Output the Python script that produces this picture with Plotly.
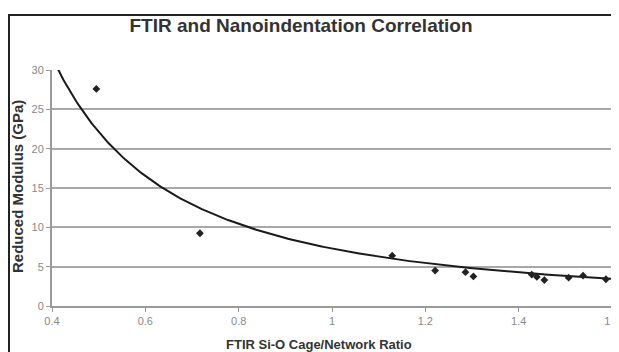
import numpy as np
import plotly.graph_objects as go

ratio = [0.495, 0.717, 1.129, 1.221, 1.286, 1.303, 1.428, 1.439, 1.455, 1.507, 1.538, 1.587]
modulus = [27.6, 9.25, 6.4, 4.5, 4.3, 3.76, 4.0, 3.7, 3.3, 3.6, 3.85, 3.4]

# Power trendline y = A * x^B (coefficients)
TREND_A = 7.3
TREND_B = -1.6
trend_x = np.linspace(0.4, 1.6, 300)
trend_y = TREND_A * trend_x ** TREND_B

x_ticks = [0.4, 0.6, 0.8, 1, 1.2, 1.4, 1.6]
x_tick_labels = ["0.4", "0.6", "0.8", "1", "1.2", "1.4", "1.6"]
y_ticks = [0, 5, 10, 15, 20, 25, 30]

# page body has an 8px margin; work in reference-pixel coordinates
OFF = 8
W, H = 619 - OFF, 352 - OFF
PL, PR, PT, PB = 52, 612, 70, 306  # plot area in reference pixels
L, R, T, B = PL - OFF, W - (PR - OFF), PT - OFF, H - (PB - OFF)
pw, ph = W - L - R, H - T - B

def px_x(px):
    return (px - PL) / pw

def px_y(py):
    return (PB - py) / ph

fig = go.Figure()
fig.add_trace(go.Scatter(x=trend_x, y=trend_y, mode="lines",
                         line=dict(color="#1a1a1a", width=2), hoverinfo="skip",
                         showlegend=False))
fig.add_trace(go.Scatter(x=ratio, y=modulus, mode="markers",
                         marker=dict(symbol="diamond", size=6, color="#222"),
                         showlegend=False))

font = "Liberation Sans, Arial, sans-serif"
bx0, bx1, by_top, by_bot = px_x(9), px_x(640), px_y(15), px_y(400)
fig.update_layout(
    width=W, height=H,
    margin=dict(l=L, r=R, t=T, b=B, autoexpand=False),
    paper_bgcolor="white", plot_bgcolor="white",
    font=dict(family=font),
    title=dict(text="<b>FTIR and Nanoindentation Correlation</b>",
               x=(301 - OFF) / W, xref="container", xanchor="center",
               y=1 - (25 - OFF) / H, yref="container", yanchor="middle",
               font=dict(size=19, color="#333", family=font)),
    xaxis=dict(range=[0.4, 1.6], tickvals=x_ticks, ticktext=x_tick_labels,
               showgrid=False, zeroline=False, showline=True, linecolor="#999",
               linewidth=2, ticks="outside", ticklen=4, tickcolor="#999",
               ticklabeloverflow="allow", automargin=False,
               tickfont=dict(size=11, color="#888", family=font)),
    yaxis=dict(range=[0, 30], tickvals=y_ticks, showgrid=True, gridcolor="#a8a8a8",
               gridwidth=2, zeroline=False, showline=True, linecolor="#999",
               linewidth=2, ticks="outside", ticklen=4, tickcolor="#999",
               automargin=False,
               tickfont=dict(size=11, color="#888", family=font)),
    shapes=[
        # plot area right border
        dict(type="line", xref="paper", yref="paper", x0=1, x1=1, y0=0, y1=1,
             line=dict(color="#cfcfcf", width=2)),
        # chart area outer border (left and top edges visible)
        dict(type="path", xref="paper", yref="paper",
             path=f"M {bx0},{by_bot} L {bx0},{by_top} L {bx1},{by_top}",
             line=dict(color="#222", width=2)),
    ],
    annotations=[
        dict(text="<b>Reduced Modulus (GPa)</b>", textangle=-90, showarrow=False,
             xref="paper", yref="paper", x=px_x(17), y=px_y(187),
             xanchor="center", yanchor="middle",
             font=dict(size=15, color="#333", family=font)),
        dict(text="<b>FTIR Si-O Cage/Network Ratio</b>", showarrow=False,
             xref="paper", yref="paper", x=px_x(319), y=px_y(344),
             xanchor="center", yanchor="middle",
             font=dict(size=13, color="#333", family=font)),
    ],
)

fig.write_html(
    "out.html",
    post_script="document.documentElement.style.overflow='hidden';"
                "document.body.style.overflow='hidden';",
)
